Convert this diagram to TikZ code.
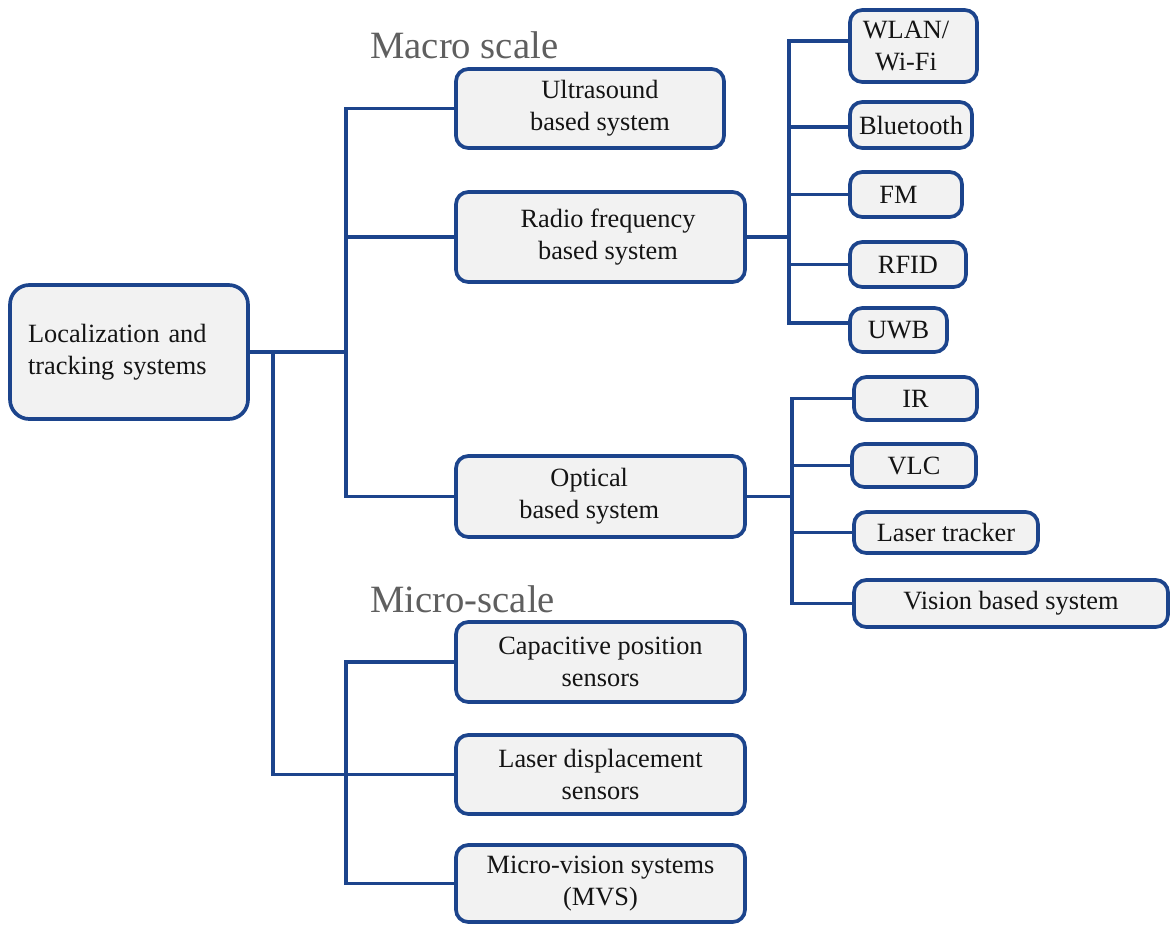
\documentclass[tikz,border=0pt]{standalone}
\usepackage{fontspec}
\setmainfont{Liberation Serif}
\definecolor{edge}{RGB}{28,68,140}
\definecolor{boxfill}{RGB}{242,242,242}
\definecolor{txt}{RGB}{20,20,20}
\definecolor{ttl}{RGB}{95,95,95}
\tikzset{
  box/.style={draw=edge, line width=2.1pt, fill=boxfill, rounded corners=7pt,
    align=center, inner sep=2pt, text=txt, font=\fontsize{15}{18.2}\selectfont},
  bx/.style 2 args={box, minimum width=#1*0.02cm, minimum height=#2*0.02cm},
  conn/.style={draw=edge, line width=2.1pt},
  ttlstyle/.style={anchor=base west, inner sep=0pt, text=ttl, font=\fontsize{22}{26}\selectfont}
}
\begin{document}
\begin{tikzpicture}[x=0.02cm,y=-0.02cm]
\useasboundingbox (0,0) rectangle (1170,924);

% titles
\node[ttlstyle] (macro) at (370,58) {Macro scale};
\node[ttlstyle] (micro) at (370,612) {Micro-scale};

% root
\node[box, rounded corners=11pt, align=left, text width=4.04cm, inner xsep=0.36cm, minimum height=134*0.02cm] (root) at (129,352) {Localization and\\tracking systems};

% level 1
\node[bx={268}{79}] (ultra) at (590,108.5) {\hspace*{0.4cm}Ultrasound\\\hspace*{0.4cm}based system};
\node[bx={289}{90}] (radio) at (600.5,237) {\hspace*{0.3cm}Radio frequency\\\hspace*{0.3cm}based system};
\node[bx={289}{81}] (optic) at (600.5,496.5) {Optical\hspace*{0.45cm}\\based system\hspace*{0.45cm}};
\node[bx={289}{80}] (capac) at (600.5,662) {Capacitive position\\sensors};
\node[bx={289}{79}] (ldisp) at (600.5,774.5) {Laser displacement\\sensors};
\node[bx={289}{77}] (mvs) at (600.5,883.5) {Micro-vision systems\\(MVS)};

% radio children
\node[bx={127}{72}] (wlan) at (913.5,46) {WLAN/\hspace*{0.3cm}\\Wi-Fi\hspace*{0.3cm}};
\node[bx={122}{46}] (blue) at (911,125) {Bluetooth};
\node[bx={112}{45}] (fm) at (906,194.5) {FM\hspace*{0.3cm}};
\node[bx={116}{45}] (rfid) at (908,264.5) {RFID};
\node[bx={97}{44}] (uwb) at (898.5,330) {UWB};

% optical children
\node[bx={123}{43}] (ir) at (915.5,398.5) {IR};
\node[bx={124}{43}] (vlc) at (914,465.5) {VLC};
\node[bx={184}{41}] (ltrack) at (946,532.5) {Laser tracker};
\node[bx={314}{47}] (vision) at (1011,603.5) {Vision based system};

% junction coordinates
\coordinate (j1) at (346,352);
\coordinate (j2) at (273,352);
\coordinate (jm) at (346,774.5);
\coordinate (jr) at (789,237);
\coordinate (jo) at (792,496.5);

% root connectors
\draw[conn] (root.east) -- (j1);
\draw[conn] (j1) |- (ultra.west);
\draw[conn] (j1) |- (optic.west);
\draw[conn] (radio.west) -- (radio.west -| j1);
\draw[conn] (j2) |- (ldisp.west);
\draw[conn] (jm) |- (capac.west);
\draw[conn] (jm) |- (mvs.west);

% radio connectors
\draw[conn] (radio.east) -- (jr);
\draw[conn] (jr) |- ([yshift=0.1cm]wlan.west);
\draw[conn] (jr) |- ([yshift=-0.04cm]blue.west);
\draw[conn] (fm.west) -- (fm.west -| jr);
\draw[conn] (rfid.west) -- (rfid.west -| jr);
\draw[conn] (jr) |- ([yshift=0.14cm]uwb.west);

% optical connectors
\draw[conn] (optic.east) -- (jo);
\draw[conn] (jo) |- (ir.west);
\draw[conn] (jo) |- (vlc.west);
\draw[conn] (jo) |- (ltrack.west);
\draw[conn] (jo) |- (vision.west);
\end{tikzpicture}
\end{document}
